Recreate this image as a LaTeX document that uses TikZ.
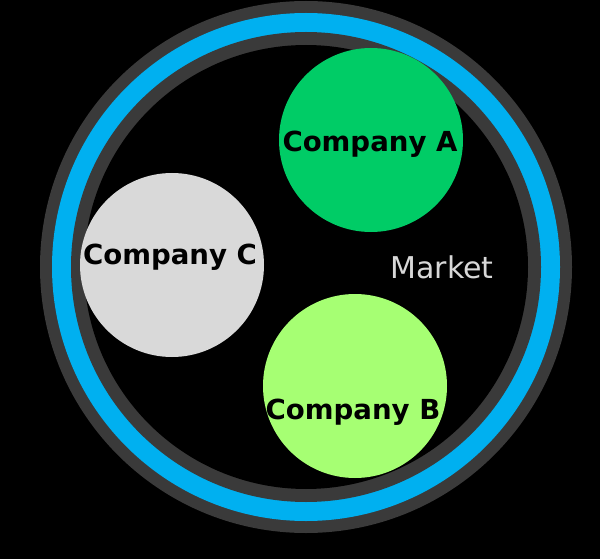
\documentclass[tikz,border=0pt]{standalone}
\usepackage{fontspec}
\setmainfont{DejaVu Sans}
\usetikzlibrary{positioning}
\definecolor{ringgray}{HTML}{3A3A3A}
\definecolor{ringblue}{HTML}{00B0F0}
\definecolor{compAgreen}{HTML}{00CC66}
\definecolor{compBgreen}{HTML}{A6FF73}
\definecolor{compCgray}{HTML}{D9D9D9}
\definecolor{marketgray}{HTML}{D8D8D8}

\begin{document}
\begin{tikzpicture}[x=1pt, y=-1pt,
    company/.style={circle, inner sep=0, minimum size=184pt},
    comptext/.style={font=\bfseries\fontsize{27.6}{32}\selectfont, text=black, anchor=base, inner sep=0}]
  % Background
  \useasboundingbox (0, 0) rectangle (600, 559);
  \fill[black] (0, 0) rectangle (600, 559);
  % Market rings
  \coordinate (mkt) at (306, 267);
  \fill[ringgray] (mkt) circle (266);
  \fill[ringblue] (mkt) circle (254);
  \fill[ringgray] (mkt) circle (235);
  \fill[black] (mkt) circle (222);
  % Companies
  \node[company, fill=compAgreen] (compA) at (371, 140) {};
  \node[company, fill=compBgreen] (compB) at (355, 386) {};
  \node[company, fill=compCgray] (compC) at (172, 265) {};
  \node[comptext] (textA) at (370, 152) {Company A};
  \node[comptext] (textB) at (353, 419) {Company B};
  \node[comptext] (textC) at (170, 264) {Company C};
  % Market label
  \node[font=\fontsize{30}{35}\selectfont, text=marketgray, anchor=base, inner sep=0] (market) at (442, 278) {Market};
\end{tikzpicture}
\end{document}
